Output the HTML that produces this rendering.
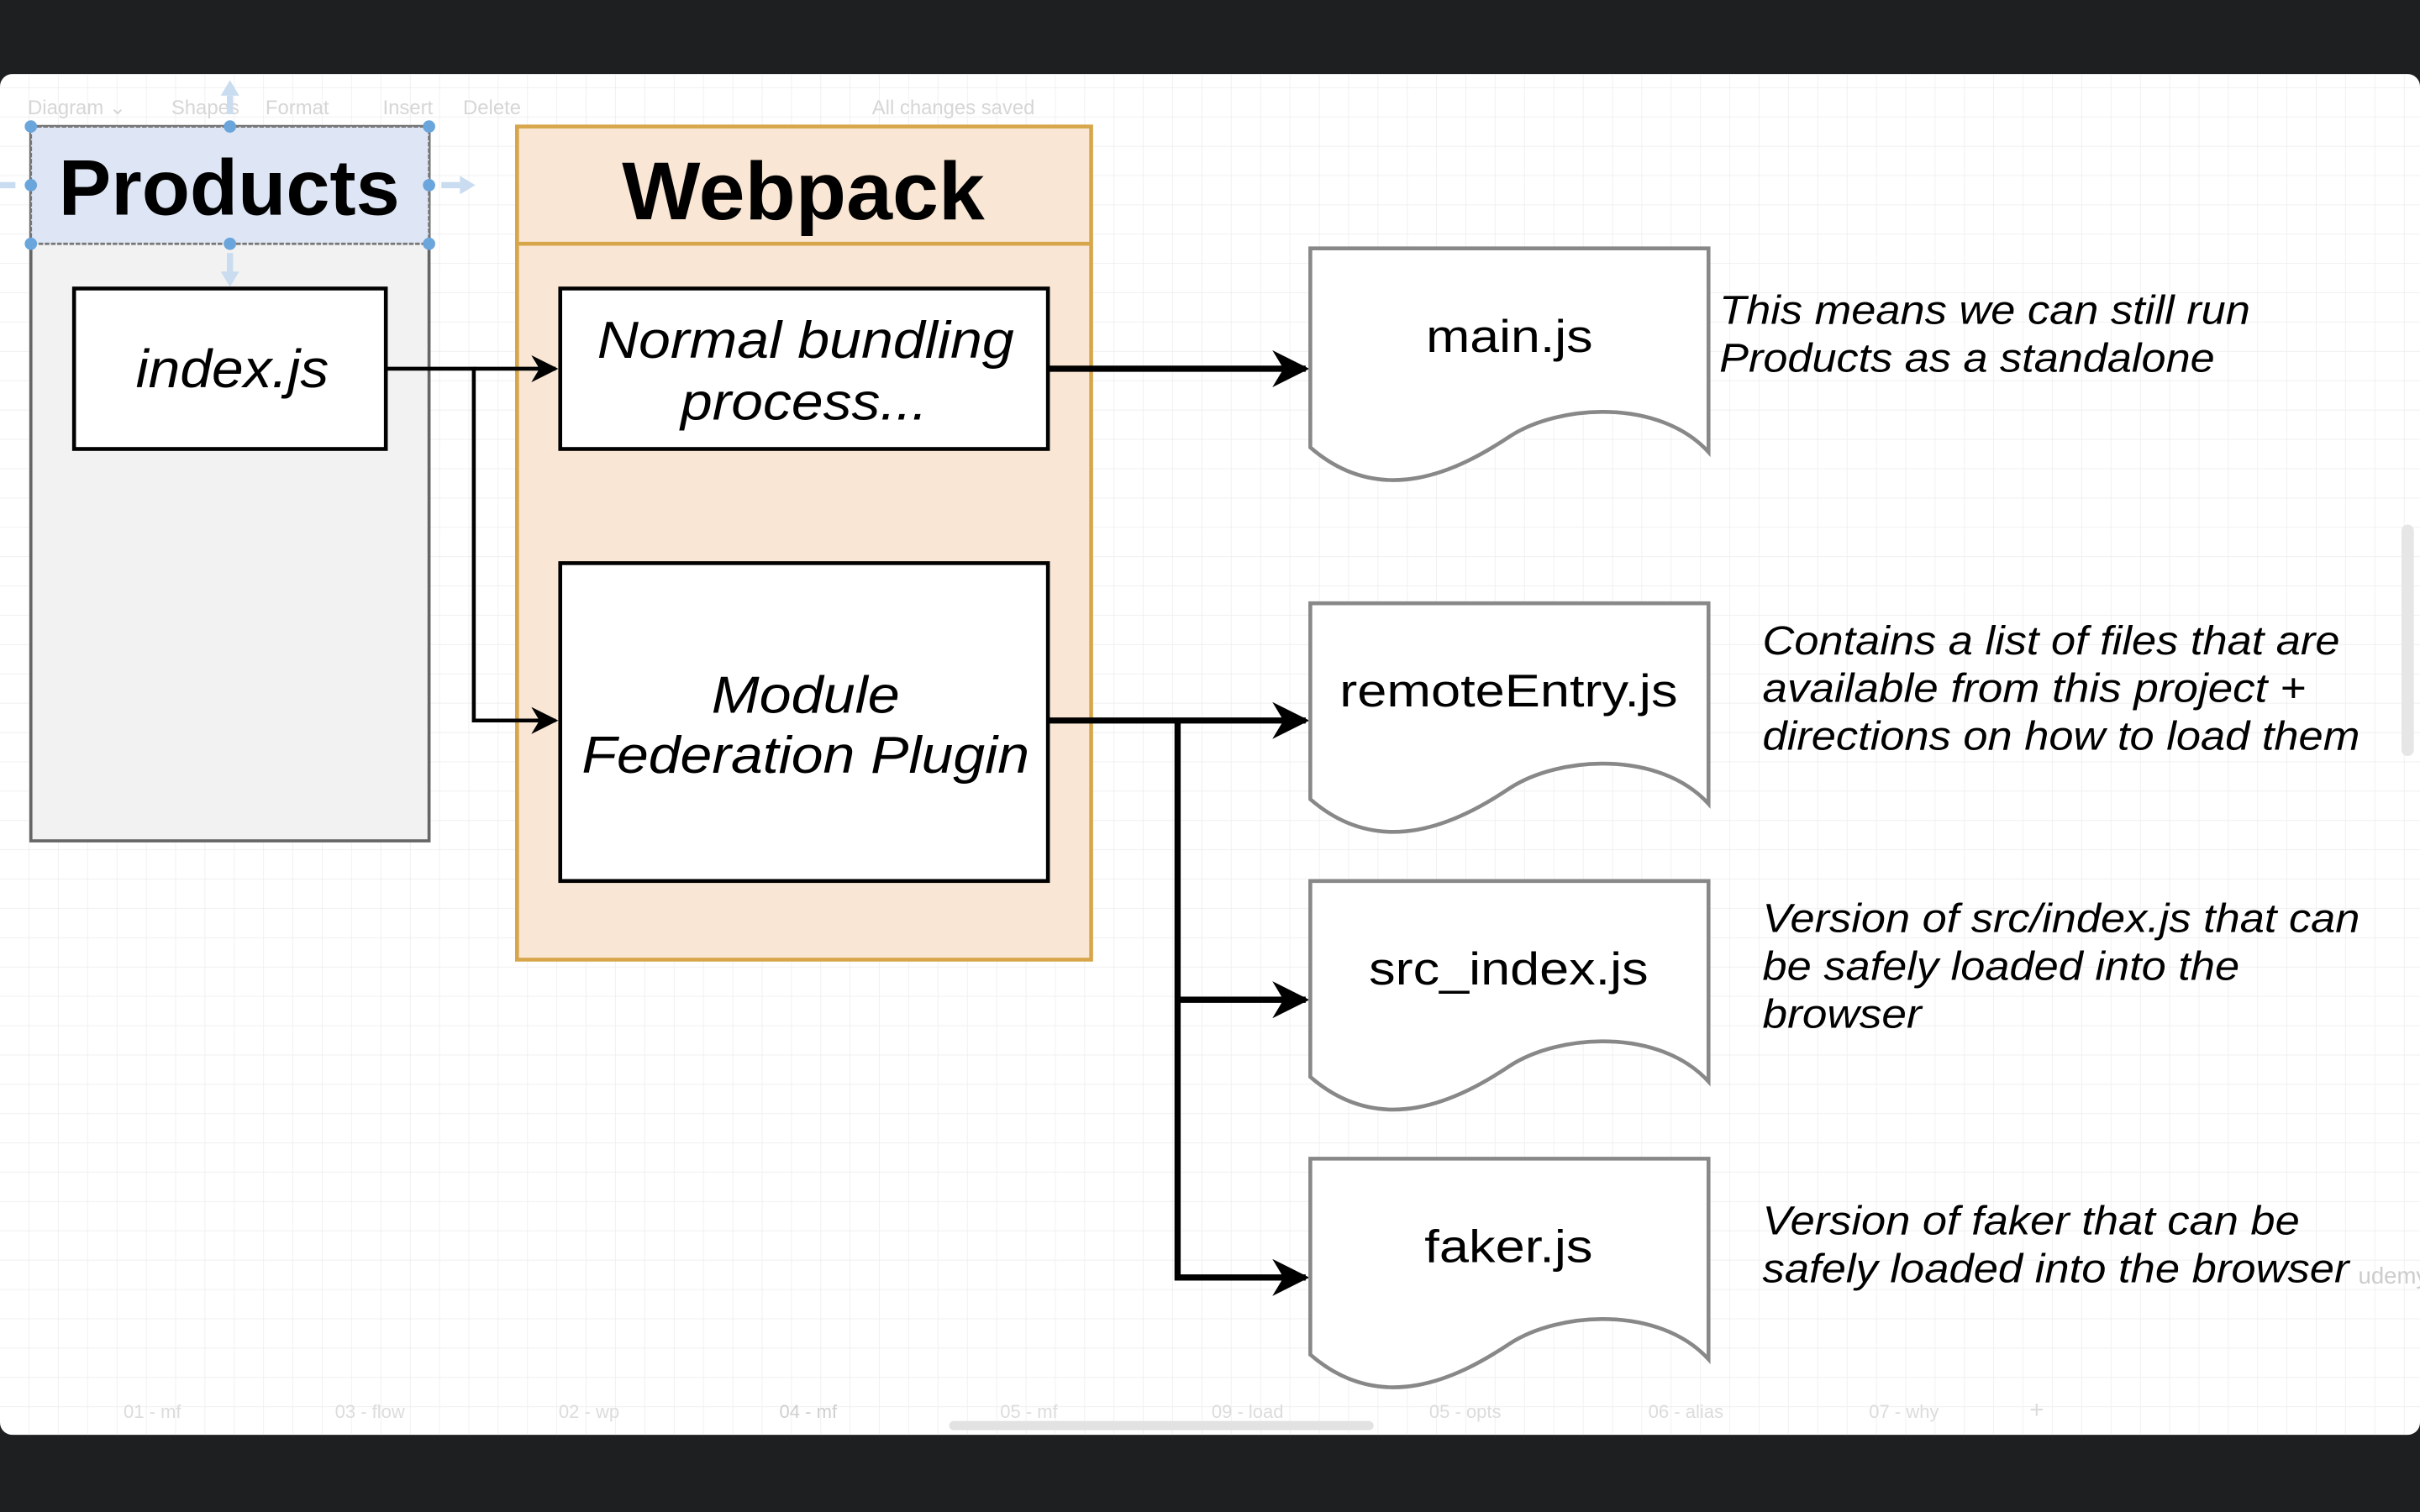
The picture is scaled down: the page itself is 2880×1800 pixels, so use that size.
<!DOCTYPE html>
<html><head><meta charset="utf-8"><style>
html,body{margin:0;padding:0;background:#1e1f21;}
svg{display:block;}
</style></head><body>
<svg width="2880" height="1800" viewBox="0 0 1568 980" preserveAspectRatio="none" xmlns="http://www.w3.org/2000/svg" font-family="Liberation Sans, sans-serif">
<defs>
<pattern id="g" width="19" height="19" patternUnits="userSpaceOnUse">
<path d="M19 0V19H0" fill="none" stroke="#ececec" stroke-width="0.8"/>
</pattern>
<marker id="a" viewBox="0 0 10 10" refX="9" refY="5" markerWidth="7" markerHeight="7" orient="auto" markerUnits="strokeWidth"><path d="M0,0 L10,5 L0,10 L3,5 Z" fill="#000"/></marker>
<marker id="b" viewBox="0 0 10 10" refX="9" refY="5" markerWidth="6" markerHeight="6" orient="auto" markerUnits="strokeWidth"><path d="M0,0 L10,5 L0,10 L3,5 Z" fill="#000"/></marker>
</defs>
<rect x="0" y="0" width="1568" height="980" fill="#1e1f21"/>
<rect x="0" y="48" width="1568" height="882" rx="8" fill="#fff"/>
<rect x="0" y="48" width="1568" height="882" fill="url(#g)"/>
<g fill="#d6d6d6" font-size="13">
<text x="18" y="74">Diagram ⌄</text><text x="111" y="74">Shapes</text><text x="172" y="74">Format</text>
<text x="248" y="74">Insert</text><text x="300" y="74">Delete</text><text x="565" y="74">All changes saved</text>
</g>
<g fill="#dcdcdc" font-size="12">
<text x="80" y="919">01 - mf</text><text x="217" y="919">03 - flow</text><text x="362" y="919">02 - wp</text><text x="505" y="919" fill="#cfcfcf">04 - mf</text><text x="648" y="919">05 - mf</text><text x="785" y="919">09 - load</text><text x="926" y="919">05 - opts</text><text x="1068" y="919">06 - alias</text><text x="1211" y="919">07 - why</text><text x="1315" y="919" font-size="16">+</text>
</g>
<rect x="615" y="921" width="275" height="6" rx="3" fill="#e2e2e2"/>
<rect x="1556" y="340" width="8" height="150" rx="4" fill="#e6e6e6"/>

<rect x="20" y="82" width="258" height="463" fill="#f2f2f2" stroke="#666" stroke-width="2"/>
<rect x="20" y="82" width="258" height="76" fill="#dee6f5" stroke="#777" stroke-width="1.5" stroke-dasharray="3 1"/>
<text x="38" y="139" font-weight="bold" font-size="51" textLength="221" lengthAdjust="spacingAndGlyphs">Products</text>
<g fill="#6aa5dc"><circle cx="20" cy="82" r="4"/><circle cx="149" cy="82" r="4"/><circle cx="278" cy="82" r="4"/><circle cx="20" cy="120" r="4"/><circle cx="278" cy="120" r="4"/><circle cx="20" cy="158" r="4"/><circle cx="149" cy="158" r="4"/><circle cx="278" cy="158" r="4"/></g>
<g fill="#c9dcf0"><path d="M143,62 L149,52 L155,62 Z"/><rect x="147" y="62" width="4" height="12"/><path d="M143,176 L149,186 L155,176 Z"/><rect x="147" y="164" width="4" height="12"/><path d="M298,114 L308,120 L298,126 Z"/><rect x="286" y="118" width="12" height="4"/><rect x="0" y="118" width="10" height="4"/></g>
<rect x="48" y="187" width="202" height="104" fill="#fff" stroke="#000" stroke-width="2.5"/>
<text x="88" y="251" font-style="italic" font-size="35" textLength="125" lengthAdjust="spacingAndGlyphs">index.js</text>

<rect x="335" y="82" width="372" height="540" fill="#f9e6d4" stroke="#d7a64a" stroke-width="2.5"/>
<line x1="335" y1="158" x2="707" y2="158" stroke="#d7a64a" stroke-width="2.5"/>
<text x="403" y="142" font-weight="bold" font-size="53" textLength="235" lengthAdjust="spacingAndGlyphs">Webpack</text>
<rect x="363" y="187" width="316" height="104" fill="#fff" stroke="#000" stroke-width="2.5"/>
<text x="387" y="232" font-style="italic" font-size="34" textLength="270" lengthAdjust="spacingAndGlyphs">Normal bundling</text>
<text x="441" y="272" font-style="italic" font-size="34" textLength="160" lengthAdjust="spacingAndGlyphs">process...</text>
<rect x="363" y="365" width="316" height="206" fill="#fff" stroke="#000" stroke-width="2.5"/>
<text x="461" y="462" font-style="italic" font-size="34" textLength="122" lengthAdjust="spacingAndGlyphs">Module</text>
<text x="377" y="501" font-style="italic" font-size="34" textLength="290" lengthAdjust="spacingAndGlyphs">Federation Plugin</text>

<g fill="none" stroke="#000">
<path d="M250,239 H307 V467 H360" stroke-width="2.5" marker-end="url(#a)"/>
<path d="M307,239 H360" stroke-width="2.5" marker-end="url(#a)"/>
<path d="M679,239 H846" stroke-width="4" marker-end="url(#b)"/>
<path d="M679,467 H846" stroke-width="4" marker-end="url(#b)"/>
<path d="M763,467 V828 H846" stroke-width="4" marker-end="url(#b)"/>
<path d="M763,648 H846" stroke-width="4" marker-end="url(#b)"/>
</g>

<g fill="#fff" stroke="#888" stroke-width="2.5">
<path d="M849,161 H1107 V293 C1075,258 1010,262 978,283 C945,305 895,330 849,290 Z"/>
<path d="M849,391 H1107 V521 C1075,486 1010,490 978,511 C945,533 895,558 849,518 Z"/>
<path d="M849,571 H1107 V701 C1075,666 1010,670 978,691 C945,713 895,738 849,698 Z"/>
<path d="M849,751 H1107 V881 C1075,846 1010,850 978,871 C945,893 895,918 849,878 Z"/>
</g>
<g font-size="30" lengthAdjust="spacingAndGlyphs">
<text x="924" y="228" textLength="108" lengthAdjust="spacingAndGlyphs">main.js</text>
<text x="868" y="458" textLength="219" lengthAdjust="spacingAndGlyphs">remoteEntry.js</text>
<text x="887" y="638" textLength="181" lengthAdjust="spacingAndGlyphs">src_index.js</text>
<text x="923" y="818" textLength="109" lengthAdjust="spacingAndGlyphs">faker.js</text>
</g>
<g font-style="italic" font-size="26">
<text x="1114" y="210" textLength="344" lengthAdjust="spacingAndGlyphs">This means we can still run</text>
<text x="1114" y="241" textLength="321" lengthAdjust="spacingAndGlyphs">Products as a standalone</text>
<text x="1142" y="424" textLength="374" lengthAdjust="spacingAndGlyphs">Contains a list of files that are</text>
<text x="1142" y="455" textLength="352" lengthAdjust="spacingAndGlyphs">available from this project +</text>
<text x="1142" y="486" textLength="387" lengthAdjust="spacingAndGlyphs">directions on how to load them</text>
<text x="1142" y="604" textLength="387" lengthAdjust="spacingAndGlyphs">Version of src/index.js that can</text>
<text x="1142" y="635" textLength="309" lengthAdjust="spacingAndGlyphs">be safely loaded into the</text>
<text x="1142" y="666" textLength="103" lengthAdjust="spacingAndGlyphs">browser</text>
<text x="1142" y="800" textLength="348" lengthAdjust="spacingAndGlyphs">Version of faker that can be</text>
<text x="1142" y="831" textLength="380" lengthAdjust="spacingAndGlyphs">safely loaded into the browser</text>
</g>
<text x="1528" y="832" font-size="15" fill="#ccc">udemy</text>
</svg>
</body></html>
